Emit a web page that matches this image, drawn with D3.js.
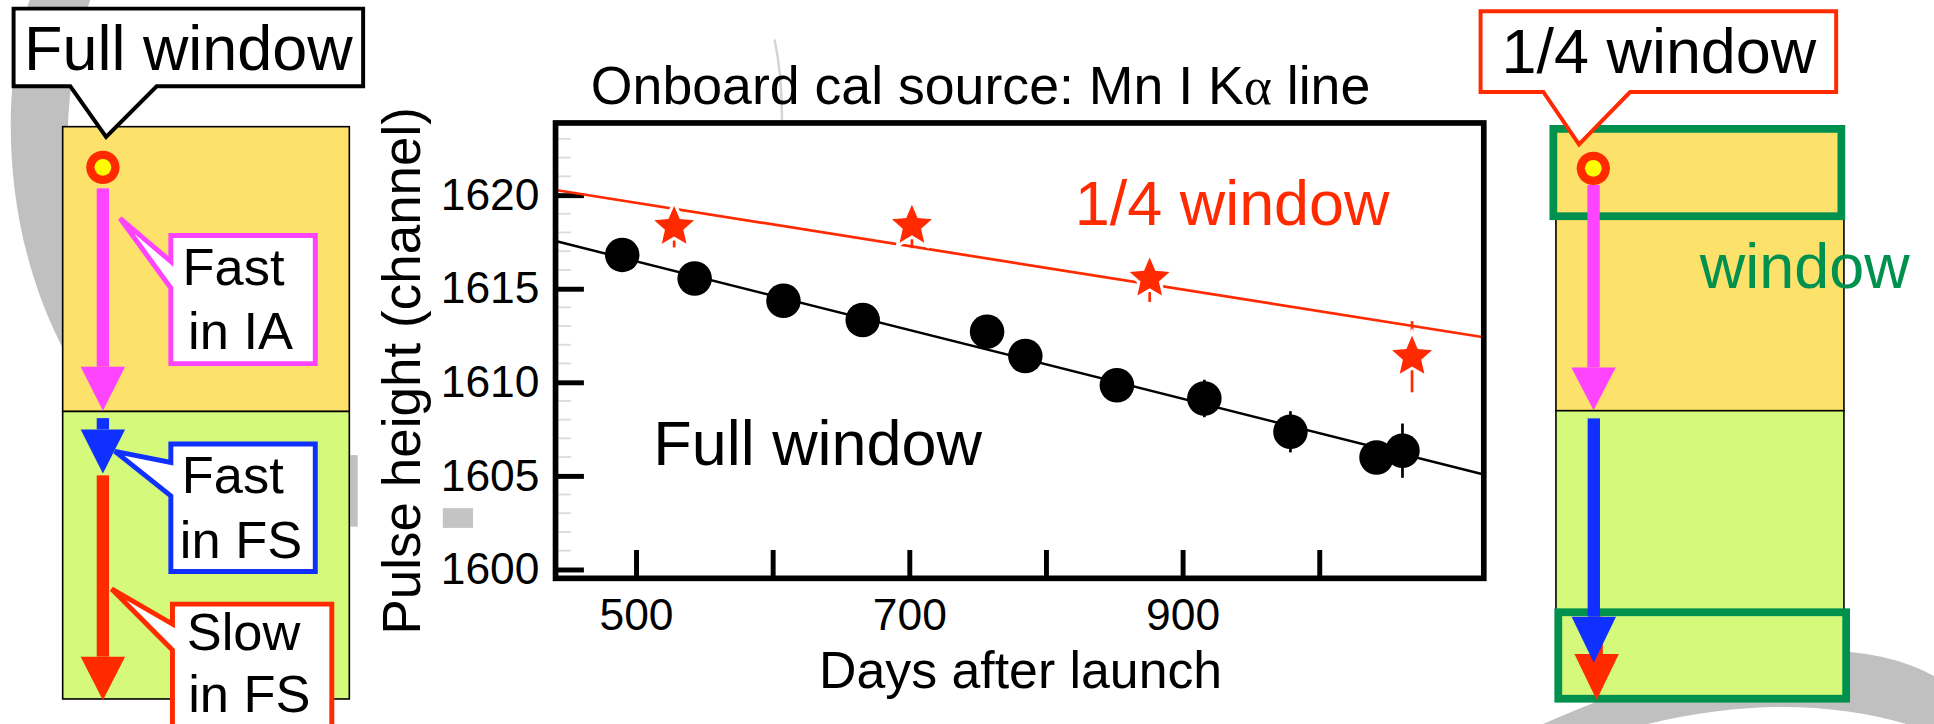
<!DOCTYPE html>
<html>
<head>
<meta charset="utf-8">
<script src="https://cdnjs.cloudflare.com/ajax/libs/d3/7.8.5/d3.min.js"></script>
<style>
  body{margin:0;background:#fff;}
  svg{display:block;font-family:"Liberation Sans",Arial,Helvetica,sans-serif;}
</style>
</head>
<body>
<script>
(function(){
  'use strict';

  //Full window: Mn I Ka pulse height vs days after launch
  var fullDays = [490, 543, 608, 666, 757, 785, 852, 916, 979, 1042, 1061];
  var fullPH   = [1616.8, 1615.54, 1614.35, 1613.32, 1612.7, 1611.4, 1609.84, 1609.13, 1607.35, 1605.98, 1606.34];
  var fullErr  = [0.7, 0.7, 0.7, 0.7, 0.7, 0.7, 0.7, 1.0, 1.1, 0.8, 1.45];

  //1/4 window points
  var quarterDays = [528, 702, 876, 1068];
  var quarterPH   = [1618.3, 1618.36, 1615.54, 1611.36];
  var quarterErr  = [1.1, 1.2, 1.25, 1.9];

  //linear fits, evaluated at the ends of the day axis
  var fitDays    = [441.2, 1120.5];
  var fullFit    = [1617.54, 1605.07];
  var quarterFit = [1620.27, 1612.4];

  //axes
  var xDomain = [441.2, 1120.5];
  var yDomain = [1599.52, 1623.85];
  var xTicks  = [500, 600, 700, 800, 900, 1000];
  var xLabels = [500, 700, 900];
  var yTicks  = [1600, 1605, 1610, 1615, 1620];

  var RED = "#ff2a00", MAGENTA = "#ff44ff", BLUE = "#1030ff", GREEN = "#00914f",
      YELLOW = "#fce16b", LIME = "#d5f97a", GREY = "#c0c0c0";

  //drawing units are the 1568x587 layout, viewBox scales it to the window
  var svg = d3.select("body").append("svg")
    .attr("width", 1934)
    .attr("height", 724)
    .attr("viewBox", "0 0 1568 587");

  //grey swoosh showing behind everything
  svg.append("path")
    .attr("d", "M24,0 C0,70 0,190 55,290 L55,103 Q57,50 73,0 Z")
    .attr("fill", GREY);
  svg.append("path")
    .attr("d", "M1240,592 Q1470,488 1575,552 L1575,597 Q1450,548 1290,600 Z")
    .attr("fill", GREY);
  svg.append("rect").attr("x", 284).attr("y", 369).attr("width", 6).attr("height", 58).attr("fill", GREY);
  svg.append("rect").attr("x", 359).attr("y", 412).attr("width", 24.5).attr("height", 16).attr("fill", "#c4c4c4");
  svg.append("path").attr("d", "M628,32 Q634,60 634,97").attr("fill", "none")
    .attr("stroke", "#d4d4d4").attr("stroke-width", 2);

  //arrow = shaft + triangle head
  function arrow(g, cx, y0, y1, tip, color){
    g.append("rect").attr("x", cx - 5).attr("y", y0).attr("width", 10).attr("height", y1 - y0).attr("fill", color);
    g.append("path")
      .attr("d", "M" + (cx - 18) + "," + y1 + "L" + (cx + 18) + "," + y1 + "L" + cx + "," + tip + "Z")
      .attr("fill", color);
  }

  function source(g, cx, cy){
    g.append("circle").attr("cx", cx).attr("cy", cy).attr("r", 13.5).attr("fill", RED);
    g.append("circle").attr("cx", cx).attr("cy", cy).attr("r", 6.8).attr("fill", "#ffff00");
  }

  function callout(g, d, color, width){
    g.append("path").attr("d", d).attr("fill", "#fff")
      .attr("stroke", color).attr("stroke-width", width).attr("stroke-linejoin", "miter");
  }

  function label(g, txt, x, y, size, color, anchor){
    return g.append("text").attr("x", x).attr("y", y)
      .attr("font-size", size).attr("fill", color || "#000")
      .attr("text-anchor", anchor || "start").text(txt);
  }

  //---- left panel: full window ----
  var left = svg.append("g");
  left.append("rect").attr("x", 50.8).attr("y", 102.7).attr("width", 232.4).attr("height", 230.9)
    .attr("fill", YELLOW).attr("stroke", "#000").attr("stroke-width", 1.3);
  left.append("rect").attr("x", 50.8).attr("y", 333.6).attr("width", 232.4).attr("height", 233.1)
    .attr("fill", LIME).attr("stroke", "#000").attr("stroke-width", 1.3);

  source(left, 83.4, 135.7);
  arrow(left, 83.4, 152.7, 297.3, 333, MAGENTA);
  arrow(left, 83.4, 339, 348.2, 384, BLUE);
  arrow(left, 83.4, 385.4, 532.4, 567.8, RED);

  callout(left, "M11,7H294.4V70H127L86,111L57,70H11Z", "#000", 3.2);
  label(left, "Full window", 152.7, 56.8, 51, "#000", "middle");

  callout(left, "M138.5,191H255.6V294.8H138.5V233.5L97.3,177L138.5,212Z", MAGENTA, 4);
  label(left, "Fast", 148, 231, 42.5);
  label(left, "in IA", 152.5, 283.2, 42.5);

  callout(left, "M138.5,360H255.6V463.4H138.5V402L93.2,366L138.5,375Z", BLUE, 4);
  label(left, "Fast", 147.4, 399.5, 42.5);
  label(left, "in FS", 145.8, 452.7, 42.5);

  callout(left, "M139.8,489.8H269V600H139.8V527L90.5,477.5L139.8,506Z", RED, 4);
  label(left, "Slow", 151.4, 527, 42.5);
  label(left, "in FS", 152.6, 577, 42.5);

  //---- right panel: 1/4 window ----
  var right = svg.append("g");
  right.append("rect").attr("x", 1261.5).attr("y", 104).attr("width", 233.5).attr("height", 229)
    .attr("fill", YELLOW).attr("stroke", "#000").attr("stroke-width", 1.3);
  right.append("rect").attr("x", 1261.5).attr("y", 333).attr("width", 233.5).attr("height", 233)
    .attr("fill", LIME).attr("stroke", "#000").attr("stroke-width", 1.3);

  right.append("rect").attr("x", 1259.4).attr("y", 104.5).attr("width", 233.5).attr("height", 70.8)
    .attr("fill", "none").attr("stroke", GREEN).attr("stroke-width", 6.3);
  right.append("rect").attr("x", 1263.4).attr("y", 496.4).attr("width", 233.4).attr("height", 70.1)
    .attr("fill", "none").attr("stroke", GREEN).attr("stroke-width", 6.3);

  source(right, 1291.8, 136.5);
  arrow(right, 1292, 150, 298, 332.6, MAGENTA);
  arrow(right, 1294.5, 500, 530.3, 567.5, RED);
  arrow(right, 1292.2, 339.2, 500, 537.3, BLUE);

  callout(right, "M1200.4,9.2H1488.7V74.6H1321.6L1280.2,117L1251.3,74.6H1200.4Z", RED, 3.2);
  label(right, "1/4 window", 1345, 59.5, 51, "#000", "middle");
  label(right, "window", 1463.2, 233.5, 51, GREEN, "middle");

  //---- chart ----
  var x = d3.scaleLinear().domain(xDomain).range([450.4, 1203]);
  var y = d3.scaleLinear().domain(yDomain).range([468.9, 99.7]);
  var chart = svg.append("g");

  //minor ticks, faint
  chart.selectAll(".minor")
    .data(d3.range(1600, 1624).filter(function(d){ return d % 5 !== 0; }))
    .enter().append("line")
    .attr("x1", 452.7).attr("x2", 463)
    .attr("y1", function(d){ return y(d); }).attr("y2", function(d){ return y(d); })
    .attr("stroke", "#dcdcdc").attr("stroke-width", 1.5);

  var yAxis = chart.append("g")
    .attr("transform", "translate(450.4,0)")
    .call(d3.axisLeft(y).tickValues(yTicks).tickSizeInner(-23).tickSizeOuter(0).tickPadding(13)
      .tickFormat(d3.format("d")));
  var xAxis = chart.append("g")
    .attr("transform", "translate(0,468.9)")
    .call(d3.axisBottom(x).tickValues(xTicks).tickSizeInner(-23).tickSizeOuter(0).tickPadding(16)
      .tickFormat(function(d){ return xLabels.indexOf(d) >= 0 ? d : ""; }));
  [yAxis, xAxis].forEach(function(a){
    a.select(".domain").remove();
    a.attr("font-family", null);
    a.selectAll("line").attr("stroke", "#000").attr("stroke-width", 4);
    a.selectAll("text").attr("fill", "#000").attr("font-size", 36);
  });

  //fit lines
  var line = d3.line()
    .x(function(d){ return x(d[0]); })
    .y(function(d){ return y(d[1]); });
  chart.append("path")
    .attr("d", line(fitDays.map(function(d, i){ return [d, quarterFit[i]]; })))
    .attr("fill", "none").attr("stroke", RED).attr("stroke-width", 2.2);
  chart.append("path")
    .attr("d", line(fitDays.map(function(d, i){ return [d, fullFit[i]]; })))
    .attr("fill", "none").attr("stroke", "#000").attr("stroke-width", 2);

  //error bars
  chart.selectAll(".errFull")
    .data(fullDays).enter().append("line")
    .attr("x1", function(d){ return x(d); }).attr("x2", function(d){ return x(d); })
    .attr("y1", function(d, i){ return y(fullPH[i] - fullErr[i]); })
    .attr("y2", function(d, i){ return y(fullPH[i] + fullErr[i]); })
    .attr("stroke", "#000").attr("stroke-width", 2.2);
  chart.selectAll(".errQuarter")
    .data(quarterDays).enter().append("line")
    .attr("x1", function(d){ return x(d); }).attr("x2", function(d){ return x(d); })
    .attr("y1", function(d, i){ return y(quarterPH[i] - quarterErr[i]); })
    .attr("y2", function(d, i){ return y(quarterPH[i] + quarterErr[i]); })
    .attr("stroke", RED).attr("stroke-width", 2.2);

  //points
  chart.selectAll(".dot")
    .data(fullDays).enter().append("circle")
    .attr("cx", function(d){ return x(d); })
    .attr("cy", function(d, i){ return y(fullPH[i]); })
    .attr("r", 14).attr("fill", "#000");

  //a chunkier five point star than d3.symbolStar
  var fatStar = {
    draw: function(ctx, size){
      var r = Math.sqrt(size), ri = r * 0.46;
      for (var k = 0; k < 10; k++){
        var a = Math.PI * k / 5, rr = k % 2 ? ri : r;
        var px = rr * Math.sin(a), py = -rr * Math.cos(a);
        if (k === 0) ctx.moveTo(px, py); else ctx.lineTo(px, py);
      }
      ctx.closePath();
    }
  };
  var star = d3.symbol().type(fatStar).size(17 * 17);
  chart.selectAll(".star")
    .data(quarterDays).enter().append("path")
    .attr("d", star)
    .attr("transform", function(d, i){ return "translate(" + x(d) + "," + y(quarterPH[i]) + ")"; })
    .attr("fill", RED).attr("stroke", "#fff").attr("stroke-width", 5)
    .attr("paint-order", "stroke");

  //frame
  chart.append("rect")
    .attr("x", 450.4).attr("y", 99.7).attr("width", 752.6).attr("height", 369.2)
    .attr("fill", "none").attr("stroke", "#000").attr("stroke-width", 4.6);

  //texts
  var title = label(chart, "Onboard cal source: Mn I K", 795, 84, 43.5, "#000", "middle");
  title.append("tspan").attr("font-family", "'Liberation Serif',serif").text("\u03b1");
  title.append("tspan").text(" line");

  label(chart, "Days after launch", 827.5, 558, 42, "#000", "middle");
  label(chart, "Pulse height (channel)", 0, 0, 43, "#000", "middle")
    .attr("transform", "translate(340.5,300.6) rotate(-90)");
  label(chart, "1/4 window", 999, 182.4, 51, RED, "middle");
  label(chart, "Full window", 662.9, 377, 51, "#000", "middle");
})();
</script>
</body>
</html>
